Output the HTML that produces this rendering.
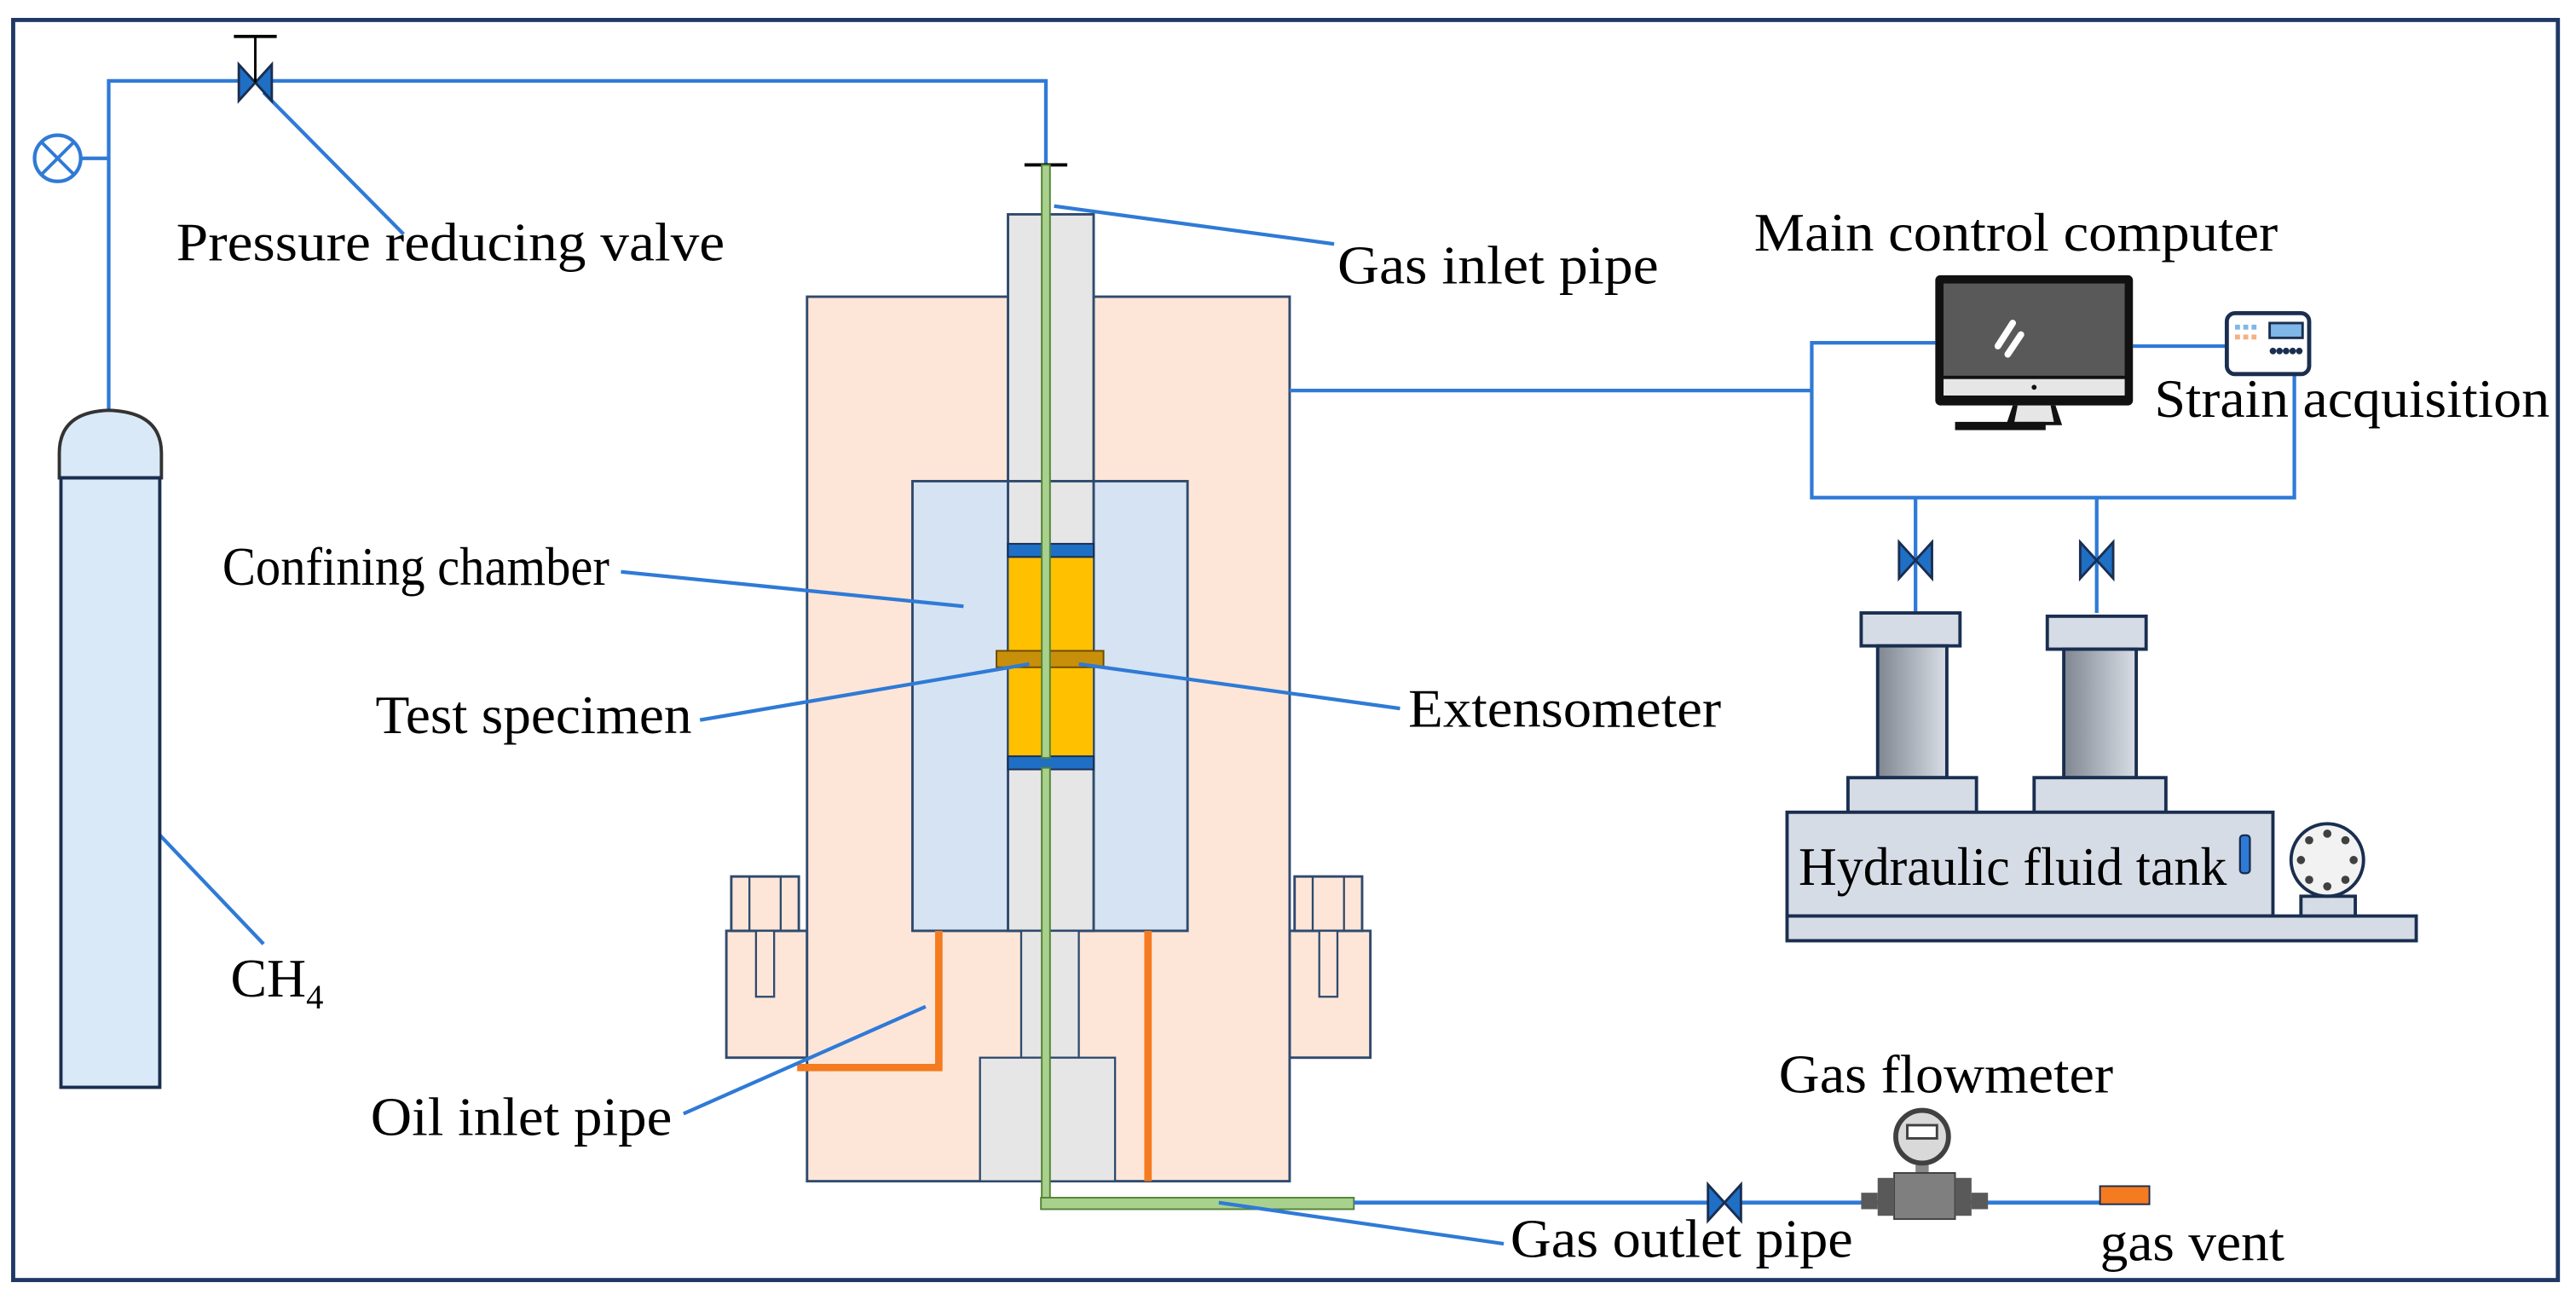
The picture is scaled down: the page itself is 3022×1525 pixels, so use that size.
<!DOCTYPE html>
<html><head><meta charset="utf-8"><style>html,body{margin:0;padding:0;background:#fff}svg{display:block}</style></head>
<body>
<svg width="3022" height="1525" viewBox="0 0 1564 789" xmlns="http://www.w3.org/2000/svg" font-family="Liberation Serif, serif" font-size="33">
<defs>
<linearGradient id="col" x1="0" x2="1" y1="0" y2="0"><stop offset="0" stop-color="#7f8690"/><stop offset="1" stop-color="#d9dee6"/></linearGradient>
</defs>
<rect x="8" y="12" width="1545" height="765" fill="#fff" stroke="#1f3864" stroke-width="2.5"/>

<g stroke="#2f7ad6" stroke-width="2.2" fill="none">
<polyline points="66,250 66,49 635,49 635,100"/>
<line x1="49" y1="96" x2="66" y2="96"/>
<line x1="160" y1="56" x2="245" y2="142"/>
<line x1="80" y1="489" x2="160" y2="573"/>
</g>
<circle cx="35" cy="96" r="14" fill="#fff" stroke="#2f7ad6" stroke-width="2.2"/>
<line x1="25" y1="86" x2="45" y2="106" stroke="#2f7ad6" stroke-width="2"/>
<line x1="45" y1="86" x2="25" y2="106" stroke="#2f7ad6" stroke-width="2"/>
<polygon points="145,39 145,61 165,39 165,61" fill="#1f6fc5" stroke="#1a2e50" stroke-width="1.5"/>
<line x1="155" y1="22" x2="155" y2="50" stroke="#000" stroke-width="1.5"/>
<line x1="142" y1="22" x2="168" y2="22" stroke="#000" stroke-width="2"/>
<line x1="622" y1="100" x2="648" y2="100" stroke="#000" stroke-width="2"/>

<path d="M36,290 L36,275 Q36,250 66,249 Q98,250 98,275 L98,290 Z" fill="#dae9f7" stroke="#333" stroke-width="2"/>
<rect x="37" y="290" width="60" height="370" fill="#dae9f7" stroke="#1a2e50" stroke-width="2"/>

<rect x="441" y="565" width="49" height="77" fill="#fde6d8" stroke="#2f4a6e" stroke-width="1.5"/>
<rect x="444" y="532" width="41" height="33" fill="#fde6d8" stroke="#2f4a6e" stroke-width="1.5"/>
<line x1="455" y1="532" x2="455" y2="565" stroke="#2f4a6e" stroke-width="1.2"/><line x1="474" y1="532" x2="474" y2="565" stroke="#2f4a6e" stroke-width="1.2"/>
<rect x="459" y="565" width="11" height="40" fill="#fde6d8" stroke="#2f4a6e" stroke-width="1.2"/>
<rect x="783" y="565" width="49" height="77" fill="#fde6d8" stroke="#2f4a6e" stroke-width="1.5"/>
<rect x="786" y="532" width="41" height="33" fill="#fde6d8" stroke="#2f4a6e" stroke-width="1.5"/>
<line x1="797" y1="532" x2="797" y2="565" stroke="#2f4a6e" stroke-width="1.2"/><line x1="816" y1="532" x2="816" y2="565" stroke="#2f4a6e" stroke-width="1.2"/>
<rect x="801" y="565" width="11" height="40" fill="#fde6d8" stroke="#2f4a6e" stroke-width="1.2"/>

<rect x="490" y="180" width="293" height="537" fill="#fde6d8" stroke="#2f4a6e" stroke-width="1.5"/>
<rect x="612" y="130" width="52" height="200" fill="#e6e6e6" stroke="#2f4a6e" stroke-width="1.5"/>
<rect x="554" y="292" width="167" height="273" fill="#d6e3f2" stroke="#2f4a6e" stroke-width="1.5"/>
<rect x="612" y="292" width="52" height="273" fill="#e6e6e6" stroke="#2f4a6e" stroke-width="1.5"/>
<rect x="612" y="338" width="52" height="122" fill="#ffc000" stroke="#2f4a6e" stroke-width="1"/>
<rect x="612" y="330" width="52" height="8" fill="#1f6fc5" stroke="#1a2e50" stroke-width="1"/>
<rect x="612" y="459" width="52" height="8" fill="#1f6fc5" stroke="#1a2e50" stroke-width="1"/>
<rect x="605" y="395" width="65" height="10" fill="#c8900a" stroke="#6b4a00" stroke-width="1"/>
<rect x="620" y="565" width="35" height="77" fill="#e6e6e6" stroke="#2f4a6e" stroke-width="1.2"/>
<rect x="595" y="642" width="82" height="75" fill="#e6e6e6" stroke="#2f4a6e" stroke-width="1.2"/>
<polyline points="570,565 570,648 484,648" fill="none" stroke="#f47b20" stroke-width="4.5"/>
<line x1="697" y1="565" x2="697" y2="717" stroke="#f47b20" stroke-width="4.5"/>
<rect x="632.5" y="100" width="5" height="360" fill="#a9d18e" stroke="#548235" stroke-width="1"/>
<rect x="632.5" y="466" width="5" height="266" fill="#a9d18e" stroke="#548235" stroke-width="1"/>
<rect x="632" y="727" width="190" height="7" fill="#a9d18e" stroke="#548235" stroke-width="1"/>

<line x1="822" y1="730" x2="1275" y2="730" stroke="#2f7ad6" stroke-width="2.5"/>
<polygon points="1037,719 1037,741 1057,719 1057,741" fill="#1f6fc5" stroke="#1a2e50" stroke-width="1.5"/>
<rect x="1275" y="720" width="30" height="11" fill="#f47b20" stroke="#1a2e50" stroke-width="1"/>
<rect x="1163" y="704" width="8" height="10" fill="#888"/>
<circle cx="1167" cy="690" r="16" fill="#d9d9d9" stroke="#404040" stroke-width="3"/>
<rect x="1158" y="683" width="18" height="8" fill="#fff" stroke="#404040" stroke-width="1.5"/>
<rect x="1150" y="712" width="37" height="28" fill="#7f7f7f" stroke="#404040" stroke-width="1"/>
<rect x="1140" y="715" width="10" height="23" fill="#595959"/>
<rect x="1187" y="715" width="10" height="23" fill="#595959"/>
<rect x="1130" y="724" width="10" height="10" fill="#595959"/>
<rect x="1197" y="724" width="10" height="10" fill="#595959"/>

<g stroke="#2f7ad6" stroke-width="2.2" fill="none">
<line x1="640" y1="125" x2="810" y2="148"/>
<line x1="377" y1="347" x2="585" y2="368"/>
<line x1="425" y1="437" x2="625" y2="403"/>
<line x1="655" y1="403" x2="850" y2="430"/>
<line x1="415" y1="676" x2="562" y2="611"/>
<line x1="740" y1="730" x2="913" y2="755"/>
<line x1="783" y1="237" x2="1100" y2="237"/>
<polyline points="1175,208 1100,208 1100,302 1393,302 1393,228"/>
<line x1="1295" y1="210" x2="1352" y2="210"/>
<line x1="1163" y1="302" x2="1163" y2="372"/>
<line x1="1273" y1="302" x2="1273" y2="372"/>
</g>
<polygon points="1153,329 1153,351 1173,329 1173,351" fill="#1f6fc5" stroke="#1a2e50" stroke-width="1.5"/>
<polygon points="1263,329 1263,351 1283,329 1283,351" fill="#1f6fc5" stroke="#1a2e50" stroke-width="1.5"/>

<rect x="1175" y="167" width="120" height="79" rx="3" fill="#111"/>
<rect x="1180" y="172" width="110" height="56" fill="#595959"/>
<rect x="1180" y="230" width="110" height="10" fill="#e6e6e6"/>
<circle cx="1235" cy="235" r="1.5" fill="#111"/>
<polygon points="1222,246 1248,246 1252,258 1218,258" fill="#111"/>
<polygon points="1225,246 1245,246 1247,256 1223,256" fill="#e6e6e6"/>
<rect x="1187" y="256" width="55" height="5" fill="#111"/>
<line x1="1222" y1="196" x2="1213" y2="210" stroke="#fff" stroke-width="4" stroke-linecap="round"/>
<line x1="1227" y1="203" x2="1219" y2="215" stroke="#fff" stroke-width="4" stroke-linecap="round"/>
<rect x="1352" y="190" width="50" height="37" rx="5" fill="#fff" stroke="#1a2e50" stroke-width="2.5"/>
<rect x="1378" y="196" width="20" height="9" fill="#7fb8e6" stroke="#1a2e50" stroke-width="1.5"/>
<rect x="1357" y="197" width="3" height="3" fill="#7fb8e6"/><rect x="1362" y="197" width="3" height="3" fill="#7fb8e6"/><rect x="1367" y="197" width="3" height="3" fill="#7fb8e6"/>
<rect x="1357" y="203" width="3" height="3" fill="#f4b183"/><rect x="1362" y="203" width="3" height="3" fill="#f4b183"/><rect x="1367" y="203" width="3" height="3" fill="#f4b183"/>
<g fill="#1a2e50"><circle cx="1380" cy="213" r="2"/><circle cx="1384" cy="213" r="2"/><circle cx="1388" cy="213" r="2"/><circle cx="1392" cy="213" r="2"/><circle cx="1396" cy="213" r="2"/></g>

<g stroke="#1a2e50" stroke-width="2">
<rect x="1130" y="372" width="60" height="20" fill="#d6dce5"/>
<rect x="1140" y="392" width="42" height="80" fill="url(#col)"/>
<rect x="1122" y="472" width="78" height="21" fill="#d6dce5"/>
<rect x="1243" y="374" width="60" height="20" fill="#d6dce5"/>
<rect x="1253" y="394" width="44" height="78" fill="url(#col)"/>
<rect x="1235" y="472" width="80" height="21" fill="#d6dce5"/>
<rect x="1085" y="493" width="295" height="63" fill="#d6dce5"/>
<rect x="1085" y="556" width="382" height="15" fill="#d6dce5"/>
<rect x="1397" y="544" width="33" height="12" fill="#d6dce5"/>
<circle cx="1413" cy="522" r="22" fill="#f2f2f2"/>
</g>
<rect x="1360" y="507" width="6" height="23" rx="2" fill="#2f7ad6" stroke="#1a2e50" stroke-width="1.2"/>
<g fill="#404040">
<circle cx="1413" cy="506" r="2.5"/><circle cx="1424" cy="510" r="2.5"/><circle cx="1429" cy="522" r="2.5"/><circle cx="1424" cy="534" r="2.5"/><circle cx="1413" cy="538" r="2.5"/><circle cx="1402" cy="534" r="2.5"/><circle cx="1397" cy="522" r="2.5"/><circle cx="1402" cy="510" r="2.5"/>
</g>

<g fill="#000">
<text x="107" y="158" textLength="333" lengthAdjust="spacingAndGlyphs">Pressure reducing valve</text>
<text x="812" y="172" textLength="195" lengthAdjust="spacingAndGlyphs">Gas inlet pipe</text>
<text x="1065" y="152" textLength="318" lengthAdjust="spacingAndGlyphs">Main control computer</text>
<text x="1308" y="253" textLength="240" lengthAdjust="spacingAndGlyphs">Strain acquisition</text>
<text x="135" y="355" textLength="235" lengthAdjust="spacingAndGlyphs">Confining chamber</text>
<text x="228" y="445" textLength="192" lengthAdjust="spacingAndGlyphs">Test specimen</text>
<text x="855" y="441" textLength="190" lengthAdjust="spacingAndGlyphs">Extensometer</text>
<text x="1092" y="537" textLength="260" lengthAdjust="spacingAndGlyphs">Hydraulic fluid tank</text>
<text x="140" y="605">CH<tspan font-size="21" dy="7">4</tspan></text>
<text x="225" y="689" textLength="183" lengthAdjust="spacingAndGlyphs">Oil inlet pipe</text>
<text x="1080" y="663" textLength="203" lengthAdjust="spacingAndGlyphs">Gas flowmeter</text>
<text x="917" y="763" textLength="208" lengthAdjust="spacingAndGlyphs">Gas outlet pipe</text>
<text x="1275" y="765" textLength="112" lengthAdjust="spacingAndGlyphs">gas vent</text>
</g>
</svg>
</body></html>
